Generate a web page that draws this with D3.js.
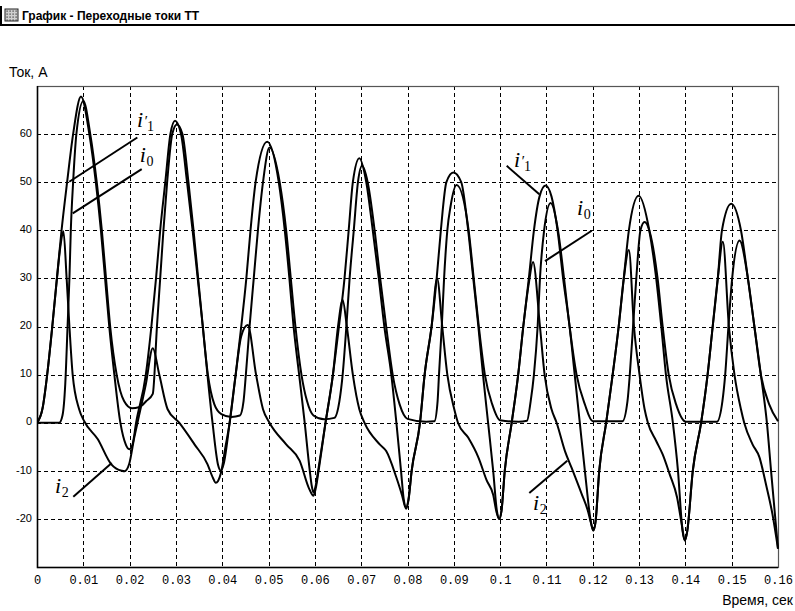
<!DOCTYPE html>
<html lang="ru">
<head>
<meta charset="UTF-8">
<title>График - Переходные токи ТТ</title>
<style>
  body { margin: 0; background: #fff; }
  svg { display: block; }
  .axis-y text { font: 11px "Liberation Sans", Arial, sans-serif; fill: #000; }
  .axis-x text { font: 12px "Liberation Mono", monospace; fill: #000; }
  .cap { font: 14px "Liberation Sans", Arial, sans-serif; fill: #000; }
  .title { font: bold 12px "Liberation Sans", Arial, sans-serif; fill: #000; }
  .lbl { font-family: "Liberation Serif", "Times New Roman", serif; fill: #000; }
</style>
</head>
<body>
<svg id="chart" width="795" height="611"></svg>
<script src="https://d3js.org/d3.v7.min.js"></script>
<script>
// ---- data: [time, s ; current, A]
var xTicks = [0, 0.01, 0.02, 0.03, 0.04, 0.05, 0.06, 0.07, 0.08, 0.09, 0.1, 0.11, 0.12, 0.13, 0.14, 0.15, 0.16];
var xTickLabels = ["0", "0.01", "0.02", "0.03", "0.04", "0.05", "0.06", "0.07", "0.08", "0.09", "0.1", "0.11", "0.12", "0.13", "0.14", "0.15", "0.16"];
var yTicks = [-20, -10, 0, 10, 20, 30, 40, 50, 60];
var yTickLabels = ["-20", "-10", "0", "10", "20", "30", "40", "50", "60"];

// i1' - primary current referred to secondary side
var i1Data = [
  [0,0],[0.0012,3],[0.0022,10],[0.0033,20],[0.0043,30],[0.0053,40],[0.0065,50],[0.0078,60],[0.0095,67.8],
  [0.0113,60],[0.0127,50],[0.0138,40],[0.0147,30],[0.0156,20],[0.0167,10],[0.018,0],[0.0192,-4.6],[0.0199,-5.5],[0.0206,-4.6],
  [0.0214,0],[0.0235,10],[0.0247,20],[0.0257,30],[0.0266,40],[0.0277,50],[0.0288,60],[0.0298,62.8],
  [0.0311,60],[0.0324,50],[0.0336,40],[0.0347,30],[0.0358,20],[0.0368,10],[0.0379,0],[0.0391,-8.8],[0.0397,-10],[0.0403,-8.6],
  [0.0416,0],[0.0429,10],[0.0441,20],[0.0452,30],[0.0461,40],[0.0472,50],[0.0497,58.4],
  [0.0522,50],[0.0535,40],[0.0545,30],[0.0554,20],[0.0566,10],[0.0578,0],[0.0589,-10],[0.0593,-13],[0.0597,-14.5],[0.0602,-13],
  [0.0607,-10],[0.0623,0],[0.0639,10],[0.0652,20],[0.0664,30],[0.0673,40],[0.0682,50],[0.0696,55],
  [0.0711,50],[0.0725,40],[0.0738,30],[0.075,20],[0.0765,10],[0.0776,0],[0.0786,-10],[0.0792,-16],[0.0797,-17.6],[0.0802,-16],
  [0.0809,-10],[0.0827,0],[0.0837,10],[0.0852,20],[0.0863,30],[0.0872,40],[0.0884,50],[0.0899,52],
  [0.0916,50],[0.0931,40],[0.0942,30],[0.0953,20],[0.0963,10],[0.0974,0],[0.0985,-10],[0.0993,-18.3],[0.0998,-20],[0.1003,-18.3],
  [0.101,-10],[0.1025,0],[0.1039,10],[0.105,20],[0.1062,30],[0.1073,40],[0.1085,47],[0.1098,49.3],
  [0.1111,47],[0.1124,40],[0.1136,30],[0.115,20],[0.1161,10],[0.1172,0],[0.1183,-10],[0.1196,-20.6],[0.1201,-22.4],[0.1206,-20.6],
  [0.1214,-10],[0.1229,0],[0.1243,10],[0.1256,20],[0.1267,30],[0.1278,40],[0.1299,47.2],
  [0.1322,40],[0.1337,30],[0.1348,20],[0.1358,10],[0.1373,0],[0.1384,-10],[0.1394,-22.6],[0.1399,-24.5],[0.1404,-22.6],
  [0.1416,-10],[0.1434,0],[0.1448,10],[0.1459,20],[0.147,30],[0.1479,40],[0.1499,45.5],
  [0.152,40],[0.1535,30],[0.1549,20],[0.1563,10],[0.1576,0],[0.1585,-10],[0.16,-26.2]
];

// i0 - magnetizing current
var i0Data = [
  [0,0],[0.0048,0],[0.0055,1.5],[0.0061,8],[0.0066,20],[0.007,30],[0.0073,40],[0.0078,50],[0.0085,60],[0.01,66.9],
  [0.0115,60],[0.0129,50],[0.014,40],[0.0149,30],[0.0158,20],[0.0172,10],[0.0188,4.5],[0.0205,3],[0.022,3.2],
  [0.0236,4.5],[0.025,6],[0.0259,20],[0.0266,30],[0.0273,40],[0.0281,50],[0.0292,60],[0.0302,62],
  [0.0314,60],[0.0327,50],[0.0338,40],[0.0348,30],[0.0358,20],[0.0369,10],[0.0383,3.8],[0.0398,1.8],[0.042,1.2],[0.0438,1.5],
  [0.0446,4.5],[0.0451,10],[0.0459,20],[0.0468,30],[0.0477,40],[0.0488,50],[0.0502,57.2],
  [0.0524,50],[0.0538,40],[0.0548,30],[0.0558,20],[0.0571,10],[0.0583,4.5],[0.0597,1.5],[0.062,0.7],[0.0642,1],
  [0.0653,4.5],[0.066,10],[0.0668,20],[0.0675,30],[0.0684,40],[0.0693,50],[0.0702,53.4],
  [0.0714,50],[0.0729,40],[0.0741,30],[0.0754,20],[0.0768,10],[0.0783,3.8],[0.08,0.8],[0.084,0.2],[0.0858,0.3],
  [0.0865,4.5],[0.0868,10],[0.0874,20],[0.0879,30],[0.0886,40],[0.0893,45],[0.0906,49.4],
  [0.0932,40],[0.0943,30],[0.0954,20],[0.0967,10],[0.0983,3.8],[0.1,0.5],[0.104,0.2],[0.1058,0.4],
  [0.1066,4.5],[0.1073,10],[0.1081,20],[0.1086,30],[0.1095,40],[0.1109,45.7],
  [0.1125,40],[0.1138,30],[0.115,20],[0.1165,10],[0.1183,3.8],[0.12,0.3],[0.1264,0.3],
  [0.1275,4.5],[0.128,10],[0.1287,20],[0.1294,30],[0.1303,40],[0.1312,41.7],
  [0.1322,40],[0.134,30],[0.1351,20],[0.1364,10],[0.138,3.8],[0.1401,0.2],[0.1468,0.2],
  [0.148,4.5],[0.1486,10],[0.1493,20],[0.1501,30],[0.1517,37.9],
  [0.1535,30],[0.1549,20],[0.1563,10],[0.1581,3.8],[0.16,0.3]
];

// i2 - secondary current
var i2Data = [
  [0,0],[0.0012,3],[0.0022,10],[0.0033,20],[0.0043,30],[0.0051,37],[0.0057,39.8],
  [0.0064,30],[0.007,20],[0.0077,10],[0.0091,2.8],[0.0102,0.3],[0.0131,-3.4],[0.016,-8.6],[0.0183,-10],[0.0189,-10.1],
  [0.0199,-8.6],[0.021,-3.1],[0.0217,0],[0.0235,8],[0.025,15.5],
  [0.0264,10],[0.0282,2.8],[0.0307,0],[0.034,-4.5],[0.0368,-8.6],[0.038,-11.5],[0.0386,-12.5],[0.0391,-12.1],
  [0.0397,-10.5],[0.0407,-5],[0.0416,0],[0.0429,10],[0.0441,18],[0.0455,20.3],
  [0.0473,10],[0.0488,2.8],[0.0502,0],[0.0538,-4.5],[0.0567,-7.9],[0.0588,-13.8],[0.0597,-15.2],[0.0602,-13.6],
  [0.0608,-10],[0.0623,0],[0.0639,10],[0.065,20],[0.066,25.5],
  [0.0669,20],[0.0682,10],[0.0696,2.8],[0.0707,0],[0.074,-4.5],[0.0754,-5.9],[0.0776,-11.4],[0.0788,-15],[0.0797,-17.9],[0.0802,-16.2],
  [0.0809,-10],[0.0827,0],[0.0837,10],[0.0852,20],[0.0864,30],
  [0.0875,20],[0.0886,10],[0.0901,2.8],[0.0909,0],[0.0931,-3.1],[0.0953,-7.2],[0.0971,-12],[0.0985,-15],[0.0992,-18.5],[0.0998,-20],[0.1003,-18.3],
  [0.101,-10],[0.1025,0],[0.1039,10],[0.105,20],[0.1062,29],[0.1071,33.4],
  [0.1086,20],[0.1096,10],[0.1111,2.8],[0.1122,0],[0.114,-5.9],[0.1154,-9.3],[0.1176,-14.8],[0.119,-18.5],[0.1196,-20.8],[0.1201,-22.4],[0.1206,-20.6],
  [0.1214,-10],[0.1229,0],[0.1243,10],[0.1256,20],[0.1267,30],[0.1278,35.9],
  [0.1289,20],[0.1301,10],[0.1312,2.8],[0.1319,0],[0.1337,-3.8],[0.1351,-6.6],[0.1366,-10.7],[0.1382,-15.5],[0.1392,-21],[0.1399,-24.5],[0.1404,-22.6],
  [0.1416,-10],[0.1434,0],[0.1448,10],[0.1459,20],[0.147,30],[0.1481,37.6],
  [0.1494,20],[0.1506,10],[0.152,2.8],[0.1527,0],[0.1545,-4.5],[0.156,-7.2],[0.1574,-12.8],[0.1588,-19],[0.16,-26.2]
];

// curve labels: subscript, prime, label point, leader line from -> to (data coords)
var labels = [
  {sub: "1", prime: true,  at: [0.0216, 61.5],  from: [0.00697, 50.1], to: [0.02166, 59.3]},
  {sub: "0", prime: false, at: [0.0222, 54.2],  from: [0.00771, 43.5], to: [0.02261, 52.7]},
  {sub: "2", prime: false, at: [0.0039, -14.6], from: [0.00784, -15.4], to: [0.01613, -8.4]},
  {sub: "1", prime: true,  at: [0.1030, 53.2],  from: [0.10846, 47.5], to: [0.10142, 53.4]},
  {sub: "0", prime: false, at: [0.1166, 43.2],  from: [0.10969, 33.6], to: [0.11977, 39.9]},
  {sub: "2", prime: false, at: [0.1071, -18.1], from: [0.1145, -7.9],  to: [0.1063, -14.6]}
];

var svg = d3.select("#chart");

// ---- window title bar
svg.append("rect").attr("x", 0).attr("y", 0).attr("width", 795).attr("height", 611).attr("fill", "#fff");
svg.append("rect").attr("x", 0).attr("y", 6).attr("width", 2).attr("height", 20).attr("fill", "#000");
svg.append("rect").attr("x", 0).attr("y", 24).attr("width", 795).attr("height", 2).attr("fill", "#000");
var icon = svg.append("g").attr("transform", "translate(5,9)");
icon.append("rect").attr("width", 13).attr("height", 12).attr("fill", "#d0d0d0").attr("stroke", "#222").attr("stroke-width", 1);
for (var r = 0; r < 4; r++) {
  for (var c = 0; c < 4; c++) {
    icon.append("rect").attr("x", 1.5 + c * 3).attr("y", 1.5 + r * 3).attr("width", 1.2).attr("height", 1.2).attr("fill", "#333");
  }
}
svg.append("text").attr("class", "title").attr("x", 22).attr("y", 20).text("График - Переходные токи ТТ");

// ---- scales
var x = d3.scaleLinear().domain([0, 0.16]).range([37, 778]);
var y = d3.scaleLinear().domain([-30, 70]).range([567, 86]);

// grid
var grid = svg.append("g").attr("stroke", "#000").attr("stroke-width", 1).attr("stroke-dasharray", "4,3").attr("shape-rendering", "crispEdges");
grid.selectAll("line.v")
  .data(xTicks.filter(function(d) { return d > 0 && d < 0.16; }))
  .enter().append("line")
  .attr("x1", function(d) { return Math.round(x(d)) + 0.5; })
  .attr("x2", function(d) { return Math.round(x(d)) + 0.5; })
  .attr("y1", y(70)).attr("y2", y(-30));
grid.selectAll("line.h")
  .data(yTicks)
  .enter().append("line")
  .attr("y1", function(d) { return Math.round(y(d)) + 0.5; })
  .attr("y2", function(d) { return Math.round(y(d)) + 0.5; })
  .attr("x1", x(0)).attr("x2", x(0.16));

// frame
svg.append("rect")
  .attr("x", x(0) + 0.5).attr("y", y(70) + 0.5)
  .attr("width", x(0.16) - x(0)).attr("height", y(-30) - y(70))
  .attr("fill", "none").attr("stroke", "#555").attr("stroke-width", 1.2);
svg.append("path")
  .attr("d", "M" + (x(0) + 0.5) + "," + y(70) + "V" + (y(-30) + 0.5) + "H" + x(0.16))
  .attr("fill", "none").attr("stroke", "#000").attr("stroke-width", 1.5);

// axes
svg.append("g")
  .attr("class", "axis-x")
  .attr("transform", "translate(0," + y(-30) + ")")
  .call(d3.axisBottom(x).tickValues(xTicks).tickSize(0).tickPadding(8)
    .tickFormat(function(d, i) { return xTickLabels[i]; }))
  .call(function(g) { g.select(".domain").remove(); });

svg.append("g")
  .attr("class", "axis-y")
  .attr("transform", "translate(" + x(0) + ",0)")
  .call(d3.axisLeft(y).tickValues(yTicks).tickSize(0).tickPadding(5)
    .tickFormat(function(d, i) { return yTickLabels[i]; }))
  .call(function(g) { g.select(".domain").remove(); g.selectAll("text").attr("dy", "0.2em"); });

svg.append("text").attr("class", "cap").attr("x", 9).attr("y", 77).text("Ток, А");
svg.append("text").attr("class", "cap").attr("x", 793).attr("y", 605).attr("text-anchor", "end").text("Время, сек");

// ---- curves
svg.append("clipPath").attr("id", "plotclip").append("rect")
  .attr("x", x(0)).attr("y", y(70)).attr("width", x(0.16) - x(0) + 1).attr("height", y(-30) - y(70));

var line = d3.line()
  .x(function(d) { return x(d[0]); })
  .y(function(d) { return y(d[1]); })
  .curve(d3.curveMonotoneX);

var plot = svg.append("g").attr("clip-path", "url(#plotclip)");
[i1Data, i0Data, i2Data].forEach(function(series) {
  plot.append("path")
    .datum(series)
    .attr("fill", "none")
    .attr("stroke", "#000")
    .attr("stroke-width", 2)
    .attr("stroke-linejoin", "round")
    .attr("d", line);
});

// ---- labels with leader lines
labels.forEach(function(l) {
  svg.append("line")
    .attr("x1", x(l.from[0])).attr("y1", y(l.from[1]))
    .attr("x2", x(l.to[0])).attr("y2", y(l.to[1]))
    .attr("stroke", "#000").attr("stroke-width", 2);
  var t = svg.append("text").attr("class", "lbl")
    .attr("x", x(l.at[0])).attr("y", y(l.at[1]))
    .attr("font-size", 22);
  t.append("tspan").attr("font-style", "italic").text("i");
  if (l.prime) {
    t.append("tspan").attr("font-style", "italic").attr("font-size", 15).attr("dx", 0.5).attr("dy", -1).text("′");
    t.append("tspan").attr("font-size", 14).attr("dx", 0).attr("dy", 5).text(l.sub);
  } else {
    t.append("tspan").attr("font-size", 14).attr("dx", 0.5).attr("dy", 4).text(l.sub);
  }
});
</script>
</body>
</html>
